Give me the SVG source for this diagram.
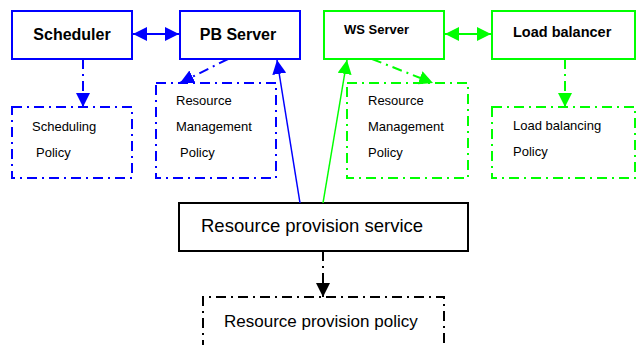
<svg xmlns="http://www.w3.org/2000/svg" width="640" height="345" viewBox="0 0 640 345">
<style>
text{font-family:"Liberation Sans",Arial,sans-serif;fill:#000}
.b{font-weight:bold}
.s{font-size:13px}
.node{fill:#fff;stroke-width:2}
.blue{stroke:#0000ff}
.green{stroke:#00ff00}
.black{stroke:#000}
.dd{fill:none;stroke-width:2;stroke-dasharray:10,5,2,5}
.ln{fill:none}
</style>
<defs>
<marker id="ab" viewBox="0 0 12 12" refX="12" refY="6" markerWidth="14" markerHeight="14" markerUnits="userSpaceOnUse" orient="auto-start-reverse"><path d="M0,0 L12,6 L0,12 z" fill="#0000ff"/></marker>
<marker id="ag" viewBox="0 0 12 12" refX="12" refY="6" markerWidth="14" markerHeight="14" markerUnits="userSpaceOnUse" orient="auto-start-reverse"><path d="M0,0 L12,6 L0,12 z" fill="#00ff00"/></marker>
<marker id="ak" viewBox="0 0 12 12" refX="12" refY="6" markerWidth="14" markerHeight="14" markerUnits="userSpaceOnUse" orient="auto"><path d="M0,0 L12,6 L0,12 z" fill="#000"/></marker>
</defs>

<g id="scheduler"><rect class="node blue" x="12" y="11" width="120" height="48"/><text class="b" x="72" y="40" font-size="16" text-anchor="middle">Scheduler</text></g>
<g id="pb-server"><rect class="node blue" x="180" y="11" width="120" height="48"/><text class="b" x="238" y="40" font-size="16" text-anchor="middle">PB Server</text></g>
<g id="scheduling-policy"><rect class="dd blue" x="12" y="107" width="120" height="71"/><text class="s" x="32" y="131">Scheduling</text><text class="s" x="36" y="157">Policy</text></g>
<g id="pb-rm-policy"><rect class="dd blue" x="156" y="83" width="120" height="95"/><text class="s" x="176" y="105">Resource</text><text class="s" x="176" y="131">Management</text><text class="s" x="180" y="157">Policy</text></g>

<g id="ws-server"><rect class="node green" x="324" y="11" width="120" height="48"/><text class="b" x="344" y="34" font-size="13">WS Server</text></g>
<g id="load-balancer"><rect class="node green" x="492" y="11" width="143" height="48"/><text class="b" x="513" y="37" font-size="14.5">Load balancer</text></g>
<g id="ws-rm-policy"><rect class="dd green" x="347" y="83" width="121" height="95"/><text class="s" x="368" y="105">Resource</text><text class="s" x="368" y="131">Management</text><text class="s" x="368" y="157">Policy</text></g>
<g id="lb-policy"><rect class="dd green" x="492" y="107" width="143" height="71"/><text class="s" x="513" y="130">Load balancing</text><text class="s" x="513" y="156">Policy</text></g>

<g id="rps"><rect class="node black" x="179" y="203" width="289" height="48" stroke-width="1.5"/><text x="201" y="232" font-size="18.5">Resource provision service</text></g>
<g id="rpp"><path class="dd black" d="M203,350 V297 H444 V350"/><text x="224" y="327" font-size="17">Resource provision policy</text></g>

<g id="connectors">
<line class="ln blue" x1="133" y1="34" x2="179" y2="34" stroke-width="2" marker-start="url(#ab)" marker-end="url(#ab)"/>
<line class="ln green" x1="445" y1="34" x2="491" y2="34" stroke-width="2" marker-start="url(#ag)" marker-end="url(#ag)"/>
<line class="dd blue" x1="83" y1="59" x2="83" y2="107" marker-end="url(#ab)"/>
<line class="dd blue" x1="228" y1="59" x2="180" y2="83" marker-end="url(#ab)"/>
<line class="dd green" x1="372" y1="59" x2="433" y2="83" marker-end="url(#ag)"/>
<line class="dd green" x1="565" y1="59" x2="565" y2="107" marker-end="url(#ag)"/>
<line class="ln blue" x1="300" y1="203" x2="277" y2="60" stroke-width="1.5" marker-end="url(#ab)"/>
<line class="ln green" x1="323" y1="203" x2="347" y2="60" stroke-width="1.5" marker-end="url(#ag)"/>
<line class="dd black" x1="323" y1="251" x2="323" y2="297" marker-end="url(#ak)"/>
</g>
</svg>
